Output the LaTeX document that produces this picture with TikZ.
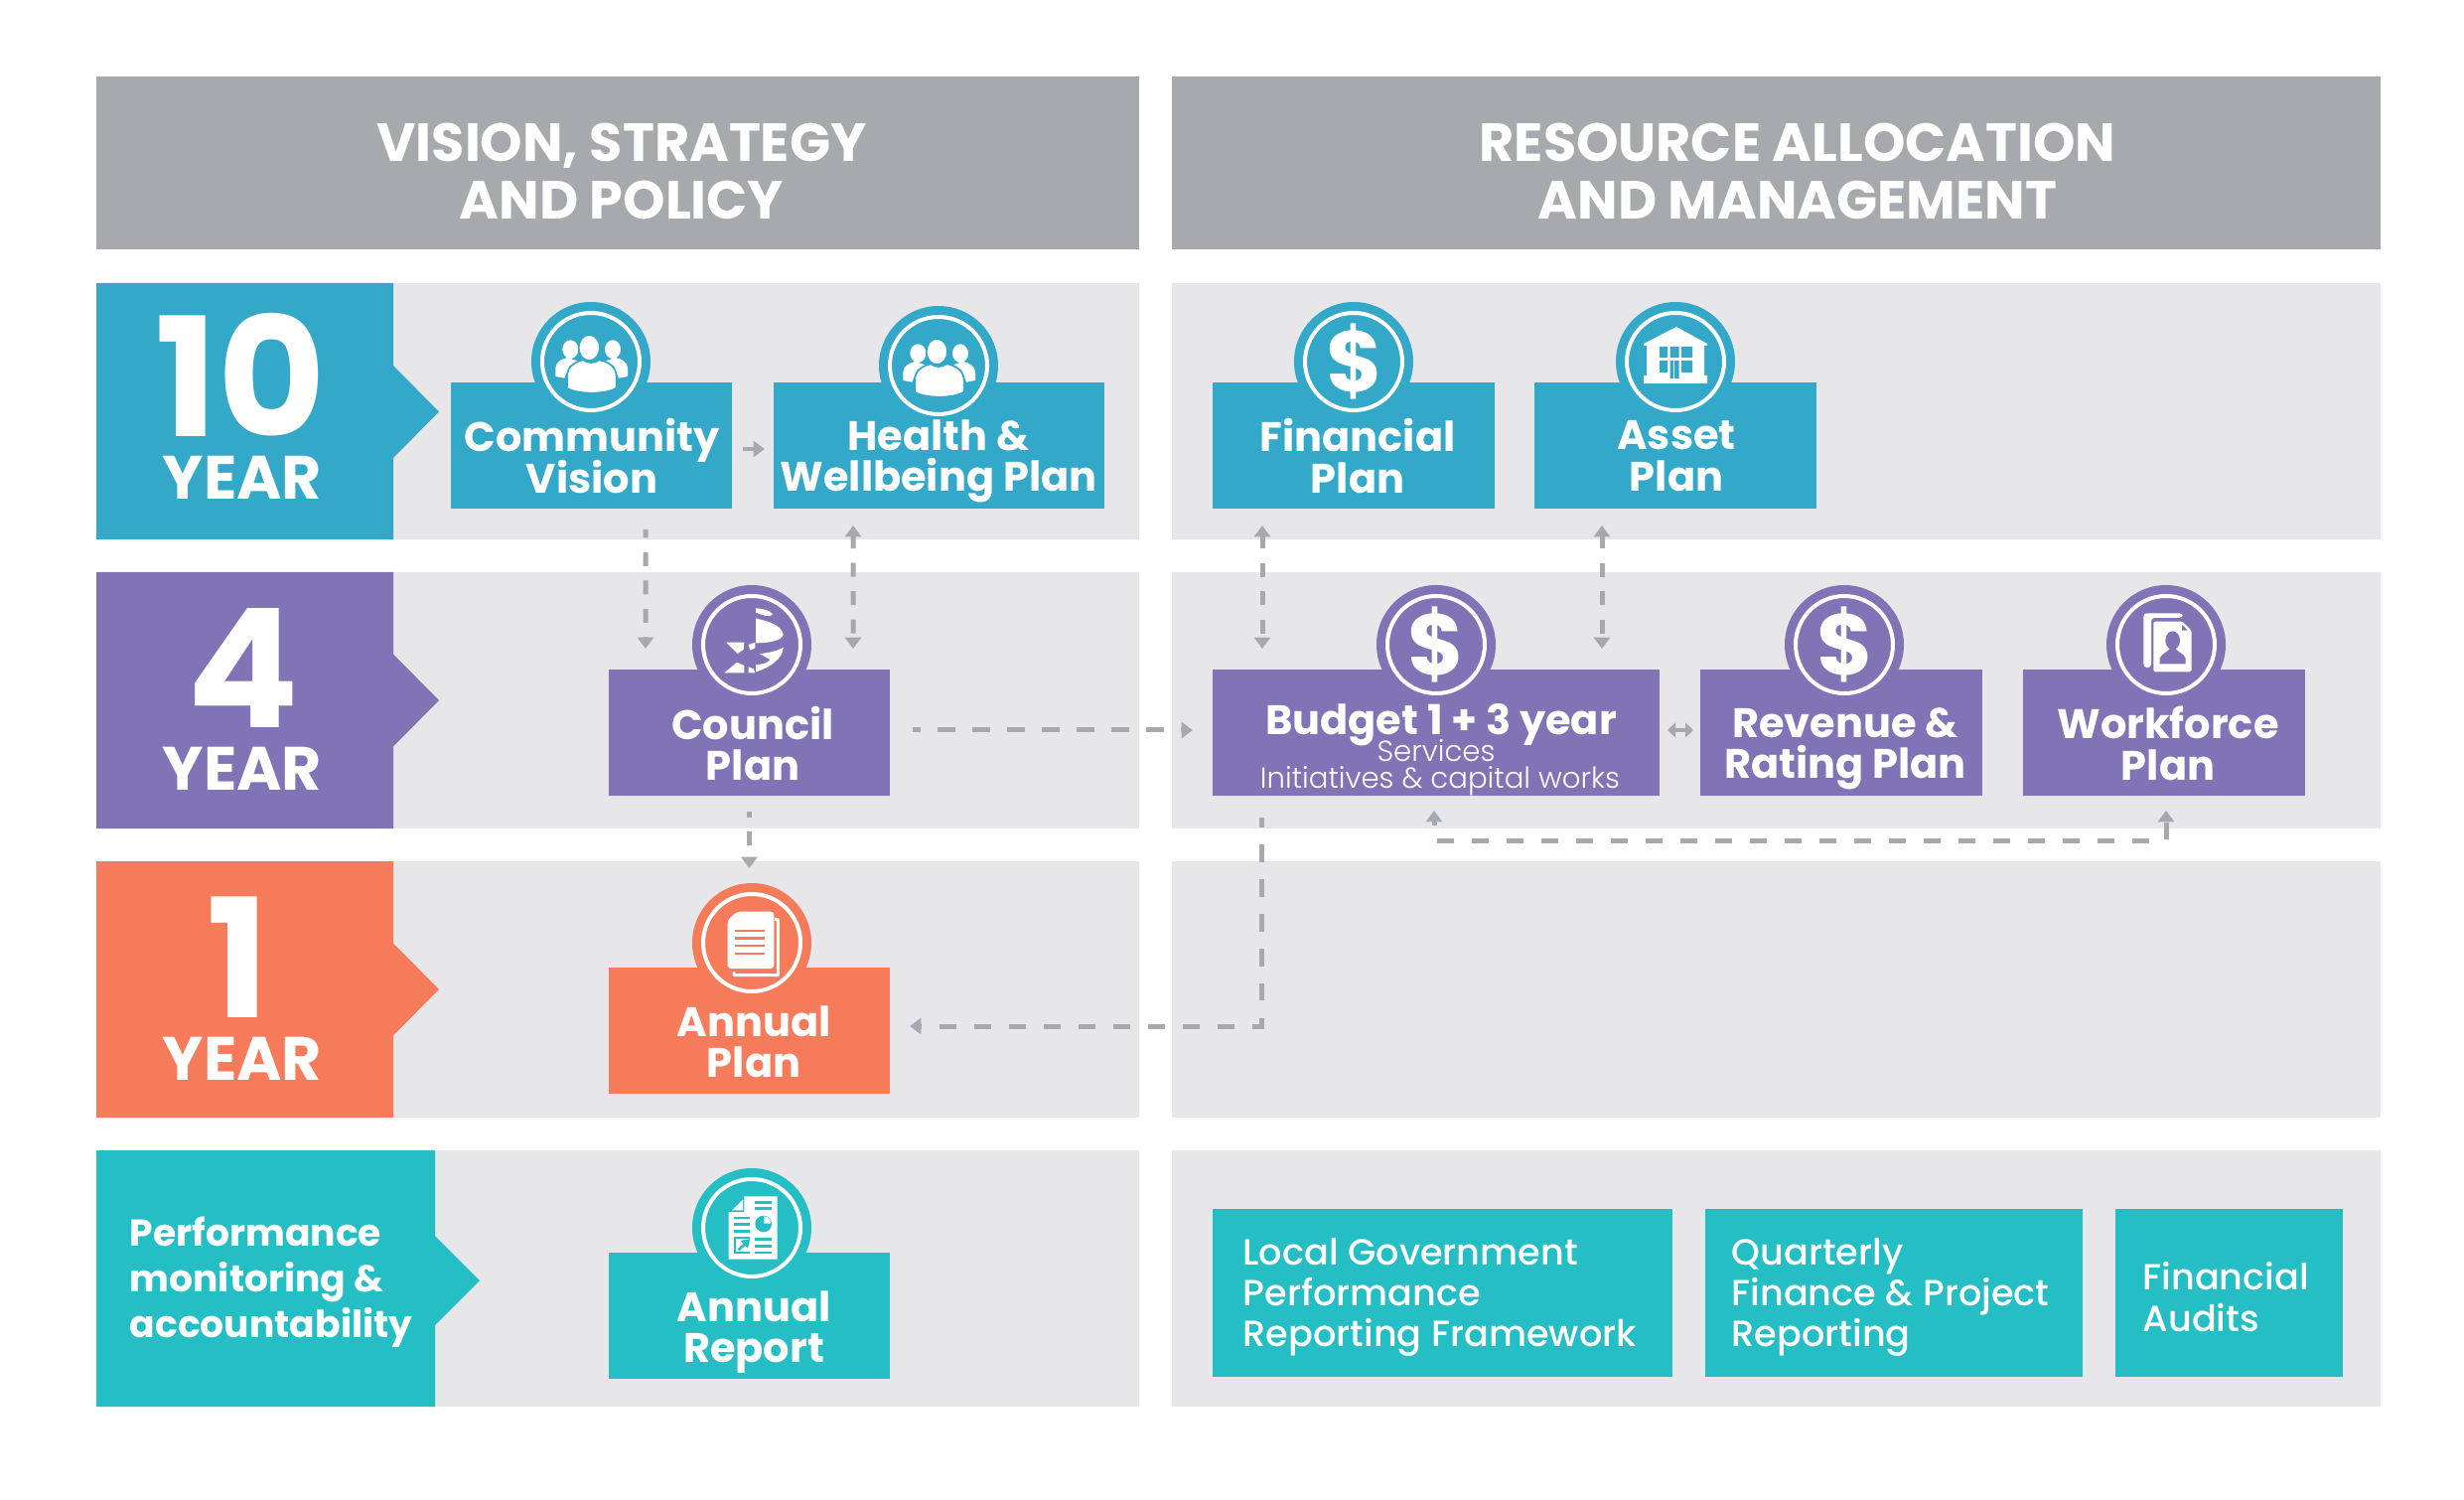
\documentclass[tikz,border=0pt]{standalone}
\usepackage{fontspec}
\setmainfont{Poppins}
\newfontfamily\plight{Poppins}[UprightFont=*-Light]
\newfontfamily\pmed{Poppins}[UprightFont=*-Medium]
\usetikzlibrary{arrows.meta}
\definecolor{cBlue}{HTML}{33A8C9}
\definecolor{cPurple}{HTML}{8074B6}
\definecolor{cOrange}{HTML}{F67B5B}
\definecolor{cTeal}{HTML}{25BEC4}
\definecolor{cBand}{HTML}{E7E7E9}
\definecolor{cHead}{HTML}{A7A9AC}
\newcommand\pl{\rule[-4pt]{0pt}{12pt}}
\newcommand\hl{\rule[-6pt]{0pt}{18pt}}
\newcommand\tight{\lineskiplimit=-100pt\relax}
\tikzset{
  block/.style={rectangle,inner sep=0pt,outer sep=0pt,draw=none},
  badge/.style={circle,inner sep=0pt,outer sep=0pt,minimum size=36pt},
  ringline/.style={circle,inner sep=0pt,outer sep=0pt,minimum size=29.4pt,draw=white,line width=1.2pt},
  plantext/.style={text=white,align=center,font=\fontsize{12.45}{12.4}\selectfont\bfseries\tight,inner sep=0pt},
  headtext/.style={text=white,align=center,font=\fontsize{16.2}{17.4}\selectfont\bfseries\tight,inner sep=0pt},
  bignum/.style={text=white,anchor=base,inner sep=0pt,font=\fontsize{50}{50}\selectfont\bfseries},
  yeartext/.style={text=white,anchor=base,inner sep=0pt,font=\fontsize{18.5}{18.5}\selectfont\bfseries},
  sidetext/.style={text=white,anchor=west,align=left,inner sep=0pt,font=\fontsize{11.3}{13.8}\selectfont\bfseries\tight},
  boxtext/.style={text=white,anchor=west,align=left,inner sep=0pt,font=\fontsize{11}{12.4}\selectfont\pmed\tight},
  subtext/.style={text=white,anchor=base,inner sep=0pt,font=\fontsize{8.75}{8.1}\selectfont\plight},
  link/.style={draw=cHead,line width=1.5pt},
  dashA/.style={link,dash pattern=on 4.2pt off 4.35pt},
  dashB/.style={link,dash pattern=on 5.25pt off 5.25pt},
  tipE/.style={-{Triangle[width=4.8pt,length=3.4pt]}},
  tipB/.style={{Triangle[width=4.8pt,length=3.4pt]}-{Triangle[width=4.8pt,length=3.4pt]}},
  tipS/.style={{Triangle[width=4.4pt,length=2.4pt]}-{Triangle[width=4.4pt,length=2.4pt]}},
}
% name, x0,y0,x1,y1, fill, text
\newcommand\blocknode[7]{\node[block,fill=#6,minimum width={(#4-#2)*0.3pt},minimum height={(#5-#3)*0.3pt}] (#1) at ({(#2+#4)/2},{(#3+#5)/2}) {#7};}
% name, cx,cy, colour
\newcommand\badgenode[4]{\node[badge,fill=#4] (#1) at (#2,#3) {};\node[ringline] (#1r) at (#2,#3) {};}
\newcommand\tabshape[7]{\fill[#1] (97,#2) -- (#4,#2) -- (#4,{#3-#6}) -- (#5,#3) -- (#4,{#3+#6}) -- (#4,#7) -- (97,#7) -- cycle;}
\newcommand\icondollar[3]{\node[text=white,inner sep=0pt,font=\fontsize{26}{26}\selectfont\bfseries] at (#1,#2) {\$};}
\newcommand\iconpeople[3]{\begin{scope}[shift={(#1,#2)},x=.1pt,y=-.1pt,shift={(-195,-192)}]
 \foreach \m/\o in {1/0,-1/394}{
  \begin{scope}[xscale=\m,xshift=\o*0.1pt*\m]
  \fill[white] (133,155) ellipse [x radius=24,y radius=28];
  \fill[white] (88,237) -- (88,212) .. controls (88,195) and (105,183) .. (125,180) -- (155,190) -- (130,205) -- (115,242) -- cycle;
  \end{scope}}
 \filldraw[fill=white,draw=#3,line width=.5pt] (190,150) ellipse [x radius=32,y radius=39];
 \filldraw[fill=white,draw=#3,line width=.5pt] (123,272) -- (123,238) .. controls (123,205) and (150,192) .. (172,187) .. controls (185,198) and (205,198) .. (220,187) .. controls (245,192) and (272,205) .. (272,238) -- (272,272) .. controls (240,292) and (155,292) .. (123,272) -- cycle;
\end{scope}}
\newcommand\iconbuilding[3]{\begin{scope}[shift={(#1,#2)},x=.3pt,y=-.3pt]
 \fill[white] (1,-35) -- (32,-18) -- (32,-16) -- (29,-16) -- (29,14) -- (32,14) -- (32,22) -- (-32,22) -- (-32,14) -- (-29,14) -- (-29,-16) -- (-32,-16) -- (-32,-18) -- cycle;
 \fill[#3] (-16,-15) rectangle (-8,-4) (-5.5,-15) rectangle (3.5,-4) (6,-15) rectangle (17,-4)
   (-16,-1) rectangle (-8,11) (-5.5,-1) rectangle (3.5,17) (6,-1) rectangle (17,11);
 \fill[white] (-1.8,-1) rectangle (-.8,17);
\end{scope}}
\newcommand\iconcouncil[3]{\begin{scope}[shift={(#1,#2)},x=.1pt,y=-.1pt,shift={(-195,-195)}]
 \fill[white] (207,85) .. controls (230,87) and (250,90) .. (258,103) .. controls (250,115) and (225,105) .. (207,98) -- cycle;
 \fill[white] (207,115) .. controls (245,125) and (285,135) .. (290,165) .. controls (285,182) and (250,190) .. (207,190) -- cycle;
 \fill[white] (118,188) -- (172,188) -- (170,210) -- (152,222) -- cycle;
 \fill[white] (185,195) -- (205,188) -- (205,205) -- (190,212) -- cycle;
 \fill[white] (218,222) .. controls (245,220) and (275,213) .. (290,203) .. controls (290,235) and (250,265) .. (207,277) -- (207,255) .. controls (225,255) and (245,250) .. (250,240) -- cycle;
 \fill[white] (112,280) -- (150,248) -- (172,258) -- (172,280) -- cycle;
 \fill[white] (185,262) -- (200,268) -- (205,280) -- (185,280) -- cycle;
\end{scope}}
\newcommand\icondoc[3]{\begin{scope}[shift={(#1,#2)},x=.1pt,y=-.1pt,shift={(-195,-192)}]
 \draw[white,line width=.9pt,line join=round] (264,120) -- (274,122) -- (274,290) -- (141,290) -- (141,280);
 \fill[white,rounded corners=1pt] (150,98) -- (262,98) -- (262,270) -- (122,270) -- (122,124) -- cycle;
 \foreach \yy in {155,178,201,225}{\draw[#3,line width=.7pt] (145,\yy) -- (235,\yy);}
\end{scope}}
\newcommand\iconreport[3]{\begin{scope}[shift={(#1,#2)},x=.1pt,y=-.1pt,shift={(-195,-195)}]
 \fill[white] (172,100) -- (272,100) -- (272,290) -- (125,290) -- (125,147) -- cycle;
 \fill[#3] (172,100) -- (172,147) -- (125,147) -- (128,140) -- (165,104) -- cycle;
 \fill[white] (168,110) -- (168,142) -- (135,142) -- cycle;
 \foreach \yy in {118,137,230,250,270}{\draw[#3,line width=.75pt] (205,\yy) -- (255,\yy);}
 \foreach \yy in {165,185,205}{\draw[#3,line width=.75pt] (142,\yy) -- (190,\yy);}
 \fill[#3] (230,183) circle [radius=25];
 \fill[white] (232,160) -- (232,182) -- (252,182) .. controls (252,170) and (245,160) .. (232,160) -- cycle;
 \draw[#3,line width=.6pt] (190,225) -- (145,225) -- (145,270) -- (190,270);
 \draw[#3,line width=.8pt,-{Triangle[width=3pt,length=2.5pt]}] (155,262) -- (190,228);
\end{scope}}
\newcommand\iconstaff[3]{\begin{scope}[shift={(#1,#2)},x=.1pt,y=-.1pt,shift={(-195,-195)}]
 \fill[white,rounded corners=1pt] (127,100) -- (245,100) -- (245,114) -- (150,114) -- (150,264) -- (127,264) -- cycle;
 \fill[white,rounded corners=.5pt] (157,125) -- (245,125) -- (272,153) -- (272,277) -- (157,277) -- cycle;
 \fill[#3] (243,135) -- (260,152) -- (243,152) -- cycle;
 \fill[#3] (215,182) ellipse [x radius=22,y radius=28];
 \fill[#3] (176,253) -- (176,236) .. controls (180,222) and (200,218) .. (208,205) -- (222,205) .. controls (230,218) and (250,222) .. (254,236) -- (254,253) -- cycle;
\end{scope}}
\begin{document}
\begin{tikzpicture}[x=0.3pt,y=-0.3pt]
\useasboundingbox[fill=white] (0,0) rectangle (2481,1510);
% header bands
\blocknode{hl}{97}{77}{1147}{251}{cHead}{}
\blocknode{hr}{1180}{77}{2397}{251}{cHead}{}
\node[headtext] (hlt) at (626,182) {\hl VISION, STRATEGY\\\hl AND POLICY};
\node[headtext] (hrt) at (1810,182) {\hl RESOURCE ALLOCATION\\\hl AND MANAGEMENT};
% grey bands
\blocknode{l1}{97}{285}{1147}{543}{cBand}{}
\blocknode{r1}{1180}{285}{2397}{543}{cBand}{}
\blocknode{l2}{97}{576}{1147}{834}{cBand}{}
\blocknode{r2}{1180}{576}{2397}{834}{cBand}{}
\blocknode{l3}{97}{867}{1147}{1125}{cBand}{}
\blocknode{r3}{1180}{867}{2397}{1125}{cBand}{}
\blocknode{l4}{97}{1158}{1147}{1416}{cBand}{}
\blocknode{r4}{1180}{1158}{2397}{1416}{cBand}{}
% tabs
\tabshape{cBlue}{285}{414.5}{396}{442}{46.5}{543}
\tabshape{cPurple}{576}{705}{396}{442}{46.5}{834}
\tabshape{cOrange}{867}{996}{396}{442}{46.5}{1125}
\tabshape{cTeal}{1158}{1289}{438}{483}{45}{1416}
\node[bignum] (n10) at (242,440) {10};
\node[yeartext] (y10) at (244,503) {YEAR};
\node[bignum] (n4) at (245,733) {4};
\node[yeartext] (y4) at (244,796) {YEAR};
\node[bignum] (n1) at (240,1024) {1};
\node[yeartext] (y1) at (244,1087) {YEAR};
\node[sidetext] (perf) at (130,1292) {\pl Performance\\monitoring \&\\\pl accountability};
% plan boxes
\blocknode{cv}{454}{385}{737}{512}{cBlue}{}
\blocknode{health}{779}{385}{1112}{512}{cBlue}{}
\blocknode{fin}{1221}{385}{1505}{512}{cBlue}{}
\blocknode{asset}{1545}{385}{1829}{512}{cBlue}{}
\blocknode{council}{613}{674}{896}{801}{cPurple}{}
\blocknode{budget}{1221}{674}{1671}{801}{cPurple}{}
\blocknode{revenue}{1712}{674}{1996}{801}{cPurple}{}
\blocknode{workforce}{2037}{674}{2321}{801}{cPurple}{}
\blocknode{annual}{613}{974}{896}{1101}{cOrange}{}
\blocknode{report}{613}{1261}{896}{1388}{cTeal}{}
\blocknode{lgpr}{1221}{1217}{1684}{1386}{cTeal}{}
\blocknode{qfp}{1717}{1217}{2097}{1386}{cTeal}{}
\blocknode{audits}{2130}{1217}{2359}{1386}{cTeal}{}
% badges
\badgenode{bcv}{595}{364}{cBlue}\iconpeople{595}{364}{cBlue}
\badgenode{bhealth}{945}{368}{cBlue}\iconpeople{945}{368}{cBlue}
\badgenode{bfin}{1363}{364}{cBlue}\icondollar{1364}{364}{cBlue}
\badgenode{basset}{1687}{364}{cBlue}\iconbuilding{1687}{364}{cBlue}
\badgenode{bcouncil}{757}{649}{cPurple}\iconcouncil{757}{649}{cPurple}
\badgenode{bbudget}{1446}{649}{cPurple}\icondollar{1446}{649}{cPurple}
\badgenode{brevenue}{1857}{649}{cPurple}\icondollar{1858}{649}{cPurple}
\badgenode{bworkforce}{2181}{649}{cPurple}\iconstaff{2181}{649}{cPurple}
\badgenode{bannual}{757}{949}{cOrange}\icondoc{757}{949}{cOrange}
\badgenode{breport}{757}{1236}{cTeal}\iconreport{757}{1236}{cTeal}
% plan text
\node[plantext] (tcv) at (596,465.5) {\pl Community\\\pl Vision};
\node[plantext] (thealth) at (945,465.5) {\pl Health \&\\\pl Wellbeing Plan};
\node[plantext] (tfin) at (1367,465.5) {\pl Financial\\\pl Plan};
\node[plantext] (tasset) at (1688,465.5) {\pl Asset\\\pl Plan};
\node[plantext] (tcouncil) at (758,755) {\pl Council\\\pl Plan};
\node[plantext] (trevenue) at (1858,755) {\pl Revenue \&\\\pl Rating Plan};
\node[plantext] (tworkforce) at (2183,755) {\pl Workforce\\\pl Plan};
\node[plantext] (tannual) at (759,1055) {\pl Annual\\\pl Plan};
\node[plantext] (treport) at (759,1342.5) {\pl Annual\\\pl Report};
\node[plantext,anchor=base] (tb1) at (1451,739) {Budget 1 + 3 year};
\node[subtext] (tb2) at (1446,766) {Services};
\node[subtext] (tb3) at (1450,793) {Initiatives \& capital works};
\node[boxtext] (tl) at (1251,1307.6) {\pl Local Government\\Performance\\\pl Reporting Framework};
\node[boxtext] (tq) at (1743,1307.6) {\pl Quarterly\\Finance \& Project\\\pl Reporting};
\node[boxtext] (ta) at (2157,1312) {\pl Financial\\\pl Audits};
% connectors
\draw[link,line width=1.3pt,tipE] ([shift={(11,3.5)}]cv.east) -- ([shift={(-9,3.5)}]health.west);
\draw[dashA,dash phase=1.65pt,tipE] ([shift={(54.5,21)}]cv.south) -- ([shift={(-104.5,-21)}]council.north);
\draw[dashA,dash phase=.45pt,tipB] ([shift={(-86.5,17)}]health.south) -- ([shift={(104.5,-21)}]council.north);
\draw[dashA,dash phase=.45pt,tipB] ([shift={(-92,17)}]fin.south) -- ([shift={(-175,-21)}]budget.north);
\draw[dashA,dash phase=.45pt,tipB] ([shift={(-74,17)}]asset.south) -- ([shift={(167,-21)}]budget.north);
\draw[dashB,dash phase=3pt,tipE] ([shift={(23,-2.5)}]council.east) -- ([shift={(-20,-2.5)}]budget.west);
\draw[dashA,dash phase=2.55pt,tipE] ([shift={(0,16)}]council.south) -- ([shift={(0,-100)}]annual.north);
\draw[dashB,dash phase=2.4pt,tipE] ([shift={(-176,22)}]budget.south) |- ([shift={(20,-4.5)}]annual.east);
\draw[link,line width=1.3pt,tipS] ([shift={(8,-2.5)}]budget.east) -- ([shift={(-7,-2.5)}]revenue.west);
\draw[dashB,dash phase=3.9pt,tipB] ([shift={(-2,15)}]budget.south) -- ++(0,30) -| ([shift={(2,15)}]workforce.south);
\end{tikzpicture}
\end{document}
